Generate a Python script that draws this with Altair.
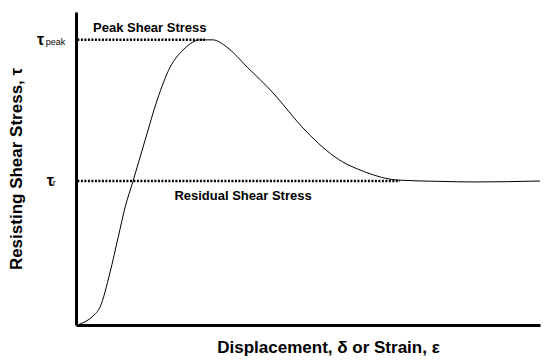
import altair as alt
import pandas as pd

# Stress-strain curve (arbitrary units, 0-100 on both axes)
strain = [0.2, 1.9, 3.7, 5.2, 7.3, 9.1, 10.6, 12.3, 14.9, 17.5, 20.3, 23.1, 25.2,
          26.7, 29.5, 32.5, 36.9, 42.5, 48.7, 52.2, 55.8, 62.3, 69.4, 78.0, 86.0, 100.0]
stress = [0.0, 1.0, 2.9, 5.8, 16.6, 28.1, 37.7, 46.0, 59.1, 71.9, 82.4, 87.9, 90.4,
          91.1, 91.1, 88.8, 82.4, 74.1, 63.3, 58.1, 53.7, 48.9, 46.3, 45.9, 45.7, 46.0]

# Reference levels and the extent of the dotted guide lines
levels = [91.1, 46.0]
level_end = [27.8, 69.8]
level_symbol = ["τ", "τ"]
level_sub = ["peak", "r"]
level_sym_x = [-8.4, -6.3]
level_sub_x = [-6.5, -5.0]

# Annotations
ann_text = ["Peak Shear Stress", "Residual Shear Stress"]
ann_x = [15.9, 36.0]
ann_y = [93.7, 39.9]

curve = pd.DataFrame({"strain": strain, "stress": stress})
lv = pd.DataFrame({"x0": [0.3, 0.3], "x1": level_end, "y": levels,
                   "sym": level_symbol, "sub": level_sub,
                   "sx": level_sym_x, "bx": level_sub_x})
ann = pd.DataFrame({"t": ann_text, "x": ann_x, "y": ann_y})

FONT = "Liberation Sans"
xs = alt.Scale(domain=[0, 100], nice=False, zero=False)
ys = alt.Scale(domain=[0, 100], nice=False, zero=False)
XT = "Displacement, δ or Strain, ε"
YT = "Resisting Shear Stress, τ"
xa = alt.Axis(ticks=False, labels=False, grid=False,
              domainWidth=3, domainColor="black", titleFont=FONT, titleFontSize=17,
              titleFontWeight="bold", titleColor="black", titlePadding=14, titleX=252)
ya = alt.Axis(ticks=False, labels=False, grid=False,
              domainWidth=3, domainColor="black", titleFont=FONT, titleFontSize=17,
              titleFontWeight="bold", titleColor="black", titlePadding=51)


def X(f):
    return alt.X(f, scale=xs, axis=xa, title=XT)


def Y(f):
    return alt.Y(f, scale=ys, axis=ya, title=YT)


line = alt.Chart(curve).mark_line(color="black", strokeWidth=1, interpolate="monotone").encode(
    x=X("strain:Q"), y=Y("stress:Q"),
)

rules = alt.Chart(lv).mark_rule(color="black", strokeWidth=2.5, strokeDash=[2, 1.5]).encode(
    x=X("x0:Q"), x2="x1:Q", y=Y("y:Q"),
)

sym = alt.Chart(lv).mark_text(font=FONT, fontSize=16, fontWeight="bold", align="left",
                              baseline="middle", color="black").encode(
    x=X("sx:Q"), y=Y("y:Q"), text="sym:N",
)
sub = alt.Chart(lv).mark_text(font=FONT, fontSize=9, align="left", baseline="alphabetic",
                              dy=5, color="black").encode(
    x=X("bx:Q"), y=Y("y:Q"), text="sub:N",
)

labels = alt.Chart(ann).mark_text(font=FONT, fontSize=13, fontWeight="bold", align="center",
                                  baseline="alphabetic", color="black").encode(
    x=X("x:Q"), y=Y("y:Q"), text="t:N",
)

chart = alt.layer(line, rules, sym, sub, labels).properties(
    width=464, height=313,
    autosize=alt.AutoSizeParams(type="none"),
    padding={"left": 68, "top": 4, "right": 2, "bottom": 31},
    background="white",
).configure_view(strokeWidth=0)

chart.save("out.html", embed_options={"renderer": "svg", "actions": False})
